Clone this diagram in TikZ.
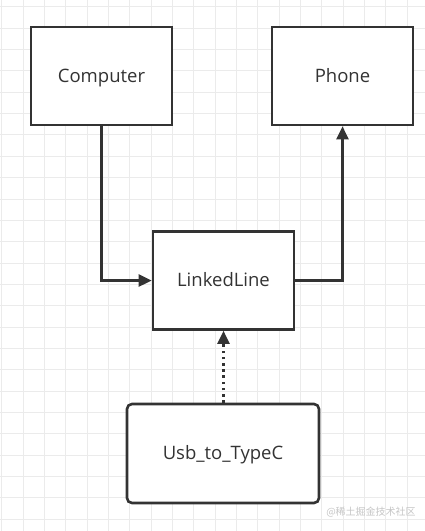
\documentclass[tikz,border=0pt]{standalone}
\usepackage{fontspec}
\setmainfont{Open Sans}
\newfontfamily\cjk{Noto Sans CJK SC}
\usetikzlibrary{arrows.meta}
\definecolor{gridc}{HTML}{EBEBEB}
\definecolor{ink}{HTML}{333333}
\tikzset{
  box/.style={draw=ink, line width=2.6pt, fill=white, minimum width=141pt, minimum height=98pt, inner sep=0pt, font=\fontsize{18.5}{22}\selectfont, text=ink, text height=16pt, text depth=4pt},
  conn/.style={draw=ink, line width=2.6pt, -{Triangle[length=13pt,width=12pt]}},
}
\begin{document}
\begin{tikzpicture}[x=1pt,y=-1pt]
\useasboundingbox (0,0) rectangle (425,531);
\fill[white] (0,0) rectangle (425,531);
\foreach \i in {0,...,19} {
  \draw[gridc, line width=0.9pt] ({1.6+21.35*\i},0) -- ({1.6+21.35*\i},531);
}
\foreach \i in {0,...,25} {
  \draw[gridc, line width=0.9pt] (0,{6.8+21.35*\i}) -- (425,{6.8+21.35*\i});
}
\node[box] (computer) at (101.5,76) {Computer};
\node[box] (phone) at (342.5,76) {Phone};
\node[box] (linked) at (223.5,280.5) {LinkedLine};
\node[box, rounded corners=5pt, minimum width=192pt, minimum height=99pt] (usb) at (223,453.5) {Usb\_to\_TypeC};
\draw[conn] (computer.south) |- (linked.west);
\draw[conn] (linked.east) -| (phone.south);
\draw[conn, dash pattern=on 2.6pt off 3.6pt, line cap=butt] (usb.north -| linked.south) -- (linked.south);
\node[anchor=center, font=\cjk\fontsize{10}{12}\selectfont, text=gray!45] (wm) at (371,512) {@稀土掘金技术社区};
\end{tikzpicture}
\end{document}
